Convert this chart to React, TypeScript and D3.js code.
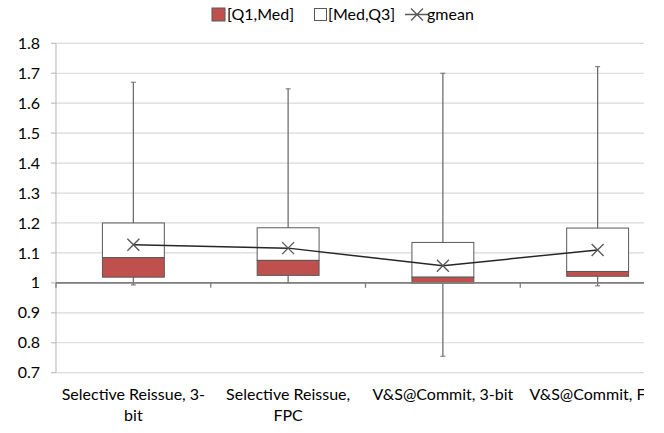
import { useEffect, useRef } from "react";
import * as d3 from "d3";

// chart values
const categories = [
  "Selective Reissue, 3-bit",
  "Selective Reissue, FPC",
  "V&S@Commit, 3-bit",
  "V&S@Commit, FPC",
];
const labelLines = [
  ["Selective Reissue, 3-", "bit"],
  ["Selective Reissue,", "FPC"],
  ["V&S@Commit, 3-bit"],
  ["V&S@Commit, FPC"],
];
const minVals = [0.993, 1.0, 0.755, 0.99];
const q1Vals = [1.019, 1.025, 0.999, 1.022];
const medVals = [1.084, 1.075, 1.019, 1.038];
const q3Vals = [1.2, 1.184, 1.135, 1.183];
const maxVals = [1.67, 1.648, 1.7, 1.722];
const gmeanVals = [1.127, 1.116, 1.057, 1.11];
const yTicks = [0.7, 0.8, 0.9, 1, 1.1, 1.2, 1.3, 1.4, 1.5, 1.6, 1.7, 1.8];

const W = 664;
const H = 433;
const FONT = "Lato, 'Liberation Sans', sans-serif";
const RED = "#C0504D";
const EDGE = "#595959";

const App = () => {
  const svgRef = useRef<SVGSVGElement>(null);

  useEffect(() => {
    if (!svgRef.current) return;
    const svg = d3.select(svgRef.current);
    svg.selectAll("*").remove();

    const left = 56;
    const right = 675; // plot continues past the cropped edge
    const top = 43.3;
    const bottom = 372.7;

    const x = d3.scaleBand<string>().domain(categories).range([left, right]).padding(0);
    const y = d3.scaleLinear().domain([0.7, 1.8]).range([bottom, top]);
    const bw = x.bandwidth() * 0.4;
    const cx = (i: number) => (x(categories[i]) as number) + x.bandwidth() / 2;

    svg
      .append("defs")
      .append("clipPath")
      .attr("id", "crop")
      .append("rect")
      .attr("x", 0)
      .attr("y", 0)
      .attr("width", 644)
      .attr("height", H);

    const g = svg.append("g").attr("clip-path", "url(#crop)");

    // gridlines
    g.selectAll(".grid")
      .data(yTicks)
      .enter()
      .append("line")
      .attr("x1", left)
      .attr("x2", right)
      .attr("y1", (d) => y(d))
      .attr("y2", (d) => y(d))
      .attr("stroke", "#d9d9d9")
      .attr("stroke-width", 1.2);

    // y axis line and ticks
    g.append("line")
      .attr("x1", left)
      .attr("x2", left)
      .attr("y1", top)
      .attr("y2", bottom)
      .attr("stroke", "#bfbfbf")
      .attr("stroke-width", 1.2);
    g.selectAll(".ytick")
      .data(yTicks)
      .enter()
      .append("line")
      .attr("x1", left - 5)
      .attr("x2", left)
      .attr("y1", (d) => y(d))
      .attr("y2", (d) => y(d))
      .attr("stroke", "#bfbfbf")
      .attr("stroke-width", 1.2);
    g.selectAll(".ylab")
      .data(yTicks)
      .enter()
      .append("text")
      .attr("x", 40)
      .attr("y", (d) => y(d))
      .attr("dy", "0.35em")
      .attr("text-anchor", "end")
      .attr("font-family", FONT)
      .attr("font-size", 16)
      .attr("fill", "#000")
      .text((d) => String(d));

    const idx = d3.range(categories.length);

    // whiskers
    g.selectAll(".whisker")
      .data(idx)
      .enter()
      .append("line")
      .attr("x1", (i) => cx(i))
      .attr("x2", (i) => cx(i))
      .attr("y1", (i) => y(minVals[i]))
      .attr("y2", (i) => y(maxVals[i]))
      .attr("stroke", "#6e6e6e")
      .attr("stroke-width", 1.3);
    g.selectAll(".capTop")
      .data(idx)
      .enter()
      .append("line")
      .attr("x1", (i) => cx(i) - 2.5)
      .attr("x2", (i) => cx(i) + 2.5)
      .attr("y1", (i) => y(maxVals[i]))
      .attr("y2", (i) => y(maxVals[i]))
      .attr("stroke", "#6e6e6e")
      .attr("stroke-width", 1);
    g.selectAll(".capBot")
      .data(idx)
      .enter()
      .append("line")
      .attr("x1", (i) => cx(i) - 2.5)
      .attr("x2", (i) => cx(i) + 2.5)
      .attr("y1", (i) => y(minVals[i]))
      .attr("y2", (i) => y(minVals[i]))
      .attr("stroke", "#6e6e6e")
      .attr("stroke-width", 1);

    // [Med,Q3] boxes
    g.selectAll(".upper")
      .data(idx)
      .enter()
      .append("rect")
      .attr("x", (i) => cx(i) - bw / 2)
      .attr("width", bw)
      .attr("y", (i) => y(q3Vals[i]))
      .attr("height", (i) => y(medVals[i]) - y(q3Vals[i]))
      .attr("fill", "#fff")
      .attr("stroke", EDGE)
      .attr("stroke-width", 1);

    // [Q1,Med] boxes
    g.selectAll(".lower")
      .data(idx)
      .enter()
      .append("rect")
      .attr("x", (i) => cx(i) - bw / 2)
      .attr("width", bw)
      .attr("y", (i) => y(medVals[i]))
      .attr("height", (i) => y(q1Vals[i]) - y(medVals[i]))
      .attr("fill", RED)
      .attr("stroke", EDGE)
      .attr("stroke-width", 1);

    // horizontal axis crossing at 1
    g.append("line")
      .attr("x1", left)
      .attr("x2", right)
      .attr("y1", y(1))
      .attr("y2", y(1))
      .attr("stroke", "#7f7f7f")
      .attr("stroke-width", 1.6);
    const bounds = categories.map((c) => x(c) as number);
    g.selectAll(".xtick")
      .data(bounds)
      .enter()
      .append("line")
      .attr("x1", (d) => d)
      .attr("x2", (d) => d)
      .attr("y1", y(1))
      .attr("y2", y(1) + 5)
      .attr("stroke", "#7f7f7f")
      .attr("stroke-width", 1.3);

    // gmean line and markers
    const line = d3
      .line<number>()
      .x((i) => cx(i))
      .y((i) => y(gmeanVals[i]));
    g.append("path")
      .attr("d", line(idx) as string)
      .attr("fill", "none")
      .attr("stroke", "#262626")
      .attr("stroke-width", 1.5);
    const s = 6;
    const marks = g
      .selectAll(".mark")
      .data(idx)
      .enter()
      .append("path")
      .attr("d", (i) => {
        const px = cx(i);
        const py = y(gmeanVals[i]);
        return `M${px - s},${py - s}L${px + s},${py + s}M${px - s},${py + s}L${px + s},${py - s}`;
      })
      .attr("stroke", EDGE)
      .attr("stroke-width", 1.4)
      .attr("fill", "none");
    void marks;

    // category labels
    g.selectAll(".xlab")
      .data(idx)
      .enter()
      .append("text")
      .attr("text-anchor", "middle")
      .attr("font-family", FONT)
      .attr("font-size", 16)
      .attr("fill", "#000")
      .each(function (i) {
        const t = d3.select(this);
        labelLines[i].forEach((ln, k) => {
          t.append("tspan")
            .attr("x", cx(i))
            .attr("y", 400 + k * 21)
            .text(ln);
        });
      });

    // legend
    const legend = svg.append("g").attr("font-family", FONT).attr("font-size", 16);
    const ly = 14.5;
    legend
      .append("rect")
      .attr("x", 212)
      .attr("y", ly - 6.5)
      .attr("width", 13)
      .attr("height", 13)
      .attr("fill", RED)
      .attr("stroke", EDGE);
    legend.append("text").attr("x", 227).attr("y", ly).attr("dy", "0.35em").text("[Q1,Med]");
    legend
      .append("rect")
      .attr("x", 314.5)
      .attr("y", ly - 6)
      .attr("width", 12)
      .attr("height", 12)
      .attr("fill", "#fff")
      .attr("stroke", EDGE);
    legend.append("text").attr("x", 328).attr("y", ly).attr("dy", "0.35em").text("[Med,Q3]");
    legend
      .append("path")
      .attr("d", `M411,${ly - 6}L423,${ly + 6}M411,${ly + 6}L423,${ly - 6}M405,${ly}L428,${ly}`)
      .attr("stroke", EDGE)
      .attr("stroke-width", 1.3);
    legend.append("text").attr("x", 427).attr("y", ly).attr("dy", "0.35em").text("gmean");
  }, []);

  return (
    <svg
      ref={svgRef}
      width={W}
      height={H}
      style={{ position: "absolute", left: 0, top: 0, background: "#fff" }}
    />
  );
};

export default App;
